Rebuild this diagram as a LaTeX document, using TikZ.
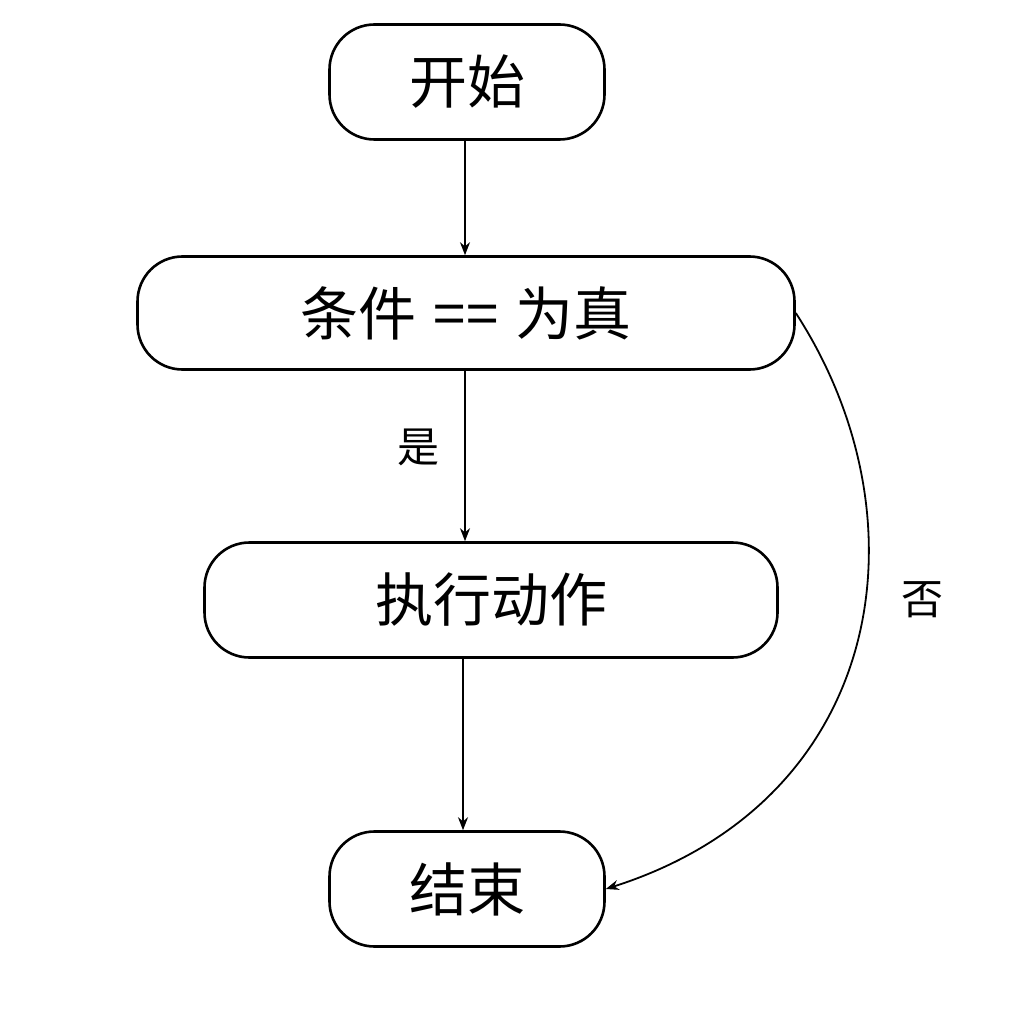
\documentclass[tikz,border=0pt]{standalone}
\usepackage{fontspec}
\newfontfamily\cjk{Noto Sans CJK SC}
\usetikzlibrary{arrows.meta}
\begin{document}
\begin{tikzpicture}[x=1pt,y=-1pt,
 box/.style={draw,line width=2.6pt,rounded corners=45pt,inner sep=0pt,font=\cjk\fontsize{58}{58}\selectfont},
 arr/.style={draw,line width=1.8pt,-{Stealth[length=13pt,width=10pt]}},
 lab/.style={font=\cjk\fontsize{42}{42}\selectfont}]
\useasboundingbox (0,0) rectangle (1030,1024);
\node[box,minimum width=275pt,minimum height=115pt] (s) at (467,82) {开始};
\node[box,minimum width=657pt,minimum height=113pt] (c) at (466,313) {条件\hspace{0.3em}==\hspace{0.3em}为真};
\node[box,minimum width=573pt,minimum height=115pt] (a) at (491,600) {执行动作};
\node[box,minimum width=275pt,minimum height=115pt] (e) at (467,889) {结束};
\draw[arr] (s.south -| 465,0) -- (c.north -| 465,0);
\draw[arr] (c.south -| 465,0) -- (a.north -| 465,0);
\draw[arr] (a.south -| 463,0) -- (e.north -| 463,0);
\draw[arr] (c.east) .. controls (930,520) and (885,800) .. (e.east);
\node[lab] (y) at (418,447) {是};
\node[lab] (n) at (922,600) {否};
\end{tikzpicture}
\end{document}
